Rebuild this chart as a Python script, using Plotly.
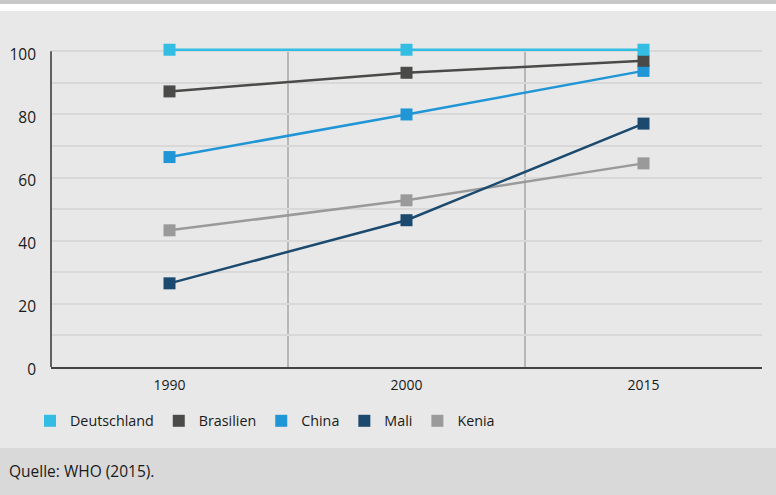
import plotly.graph_objects as go

years = ["1990", "2000", "2015"]
countries = ["Deutschland", "Brasilien", "China", "Mali", "Kenia"]
deutschland = [100.5, 100.5, 100.5]
brasilien = [87.3, 93.2, 97.0]
china = [66.5, 80.0, 93.8]
mali = [26.5, 46.5, 77.1]
kenia = [43.3, 52.8, 64.5]
colors = ["#33bde3", "#4a4a48", "#2196d6", "#1b4a6e", "#9a9a9a"]
y_ticks = [0, 20, 40, 60, 80, 100]

series = [deutschland, brasilien, china, mali, kenia]
FONT = "Open Sans"

# Plot box in pixels
L, R, T, B = 51, 14, 45, 128
W, H = 776, 495
PW, PH = W - L - R, H - T - B
Y_MAX = 102.0


def px_x(px):
    return (px - L) / PW


def px_y(py):
    return (H - B - py) / PH


fig = go.Figure()

# Lines drawn bottom-up so the top series sits over the rest
for name, vals, col in reversed(list(zip(countries, series, colors))):
    fig.add_trace(go.Scatter(
        x=years, y=vals, mode="lines+markers", name=name,
        line=dict(color=col, width=2.5),
        marker=dict(symbol="square", size=12, color=col),
        showlegend=False, cliponaxis=False,
    ))

# Legend entries: plain squares
for name, col in zip(countries, colors):
    fig.add_trace(go.Scatter(
        x=[None], y=[None], mode="markers", name=name,
        marker=dict(symbol="square", size=12, color=col),
    ))

# Separators between year groups
for xv in (0.5, 1.5):
    fig.add_shape(type="line", xref="x", yref="y", x0=xv, x1=xv, y0=0, y1=100,
                  line=dict(color="#a6a6a6", width=1.5), layer="below")

# Vertical axis line, ending at 100
fig.add_shape(type="line", xref="paper", yref="y", x0=0, x1=0, y0=0, y1=100,
              line=dict(color="#333333", width=1.5), layer="above")

# Page bands: top strip, white gap, source footer
fig.add_shape(type="rect", xref="paper", yref="paper", x0=-1, x1=2, y0=px_y(11), y1=px_y(-5),
              fillcolor="#ffffff", line_width=0, layer="below")
fig.add_shape(type="rect", xref="paper", yref="paper", x0=-1, x1=2, y0=px_y(4), y1=px_y(-5),
              fillcolor="#c8c8c8", line_width=0, layer="below")
fig.add_shape(type="rect", xref="paper", yref="paper", x0=-1, x1=2, y0=px_y(500), y1=px_y(448),
              fillcolor="#d9d9d9", line_width=0, layer="below")

fig.add_annotation(text="Quelle: WHO (2015).", xref="paper", yref="paper",
                   x=px_x(7), y=px_y(471), xanchor="left", yanchor="middle",
                   showarrow=False, font=dict(family=FONT, size=15.5, color="#1a1a1a"))

fig.update_layout(
    width=W, height=H,
    margin=dict(l=L, r=R, t=T, b=B),
    paper_bgcolor="#e8e8e8", plot_bgcolor="#e8e8e8",
    font=dict(family=FONT, size=14, color="#1a1a1a"),
    xaxis=dict(type="category", range=[-0.5, 2.5], showgrid=False,
               showline=True, linecolor="#444444", linewidth=2,
               ticks="", tickfont=dict(size=14), ticklabelstandoff=4,
               automargin=False, fixedrange=True),
    yaxis=dict(range=[0, Y_MAX], tickvals=y_ticks, showgrid=True, gridcolor="#d8d8d8", gridwidth=1.5,
               minor=dict(dtick=10, tick0=0, showgrid=True, gridcolor="#d8d8d8", gridwidth=1.5),
               showline=False, zeroline=False, automargin=False,
               ticks="", ticklabelstandoff=14, ticklabelshift=3, tickfont=dict(size=15.5)),
    legend=dict(orientation="h", x=px_x(30), y=px_y(421), xanchor="left", yanchor="middle",
                bgcolor="rgba(0,0,0,0)", font=dict(size=14.3), itemwidth=30),
)

fig.write_html("out.html")
